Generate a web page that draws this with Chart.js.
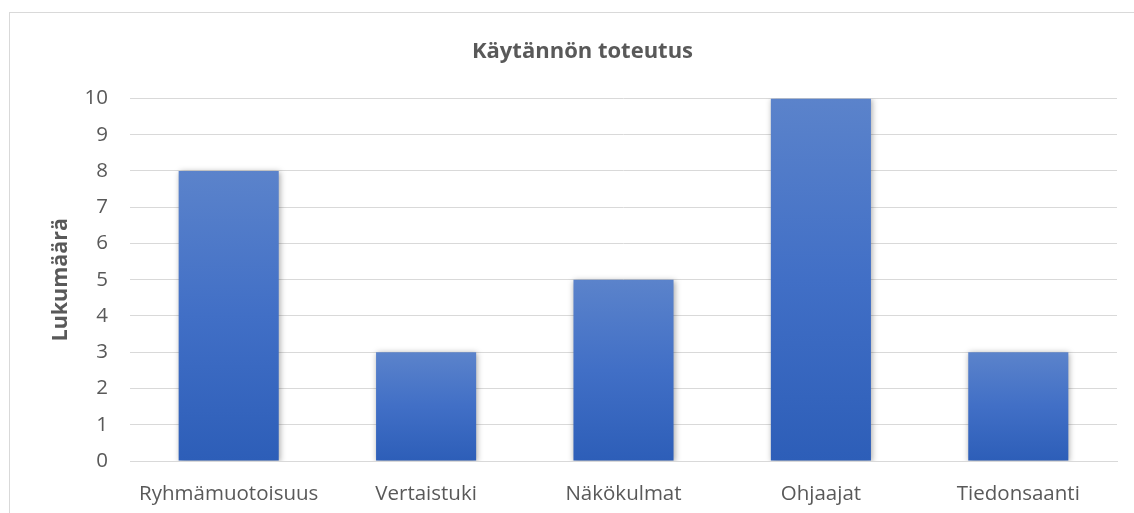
<!DOCTYPE html>
<html>
<head>
<meta charset="utf-8">
<script src="https://cdn.jsdelivr.net/npm/chart.js@4"></script>
<style>
  html, body { margin: 0; padding: 0; background: #fff; }
  #wrap { position: relative; width: 1134px; height: 513px; overflow: hidden; }
  #frame { position: absolute; left: 9px; top: 12px; width: 1200px; height: 600px; border: 1px solid #d9d9d9; }
  canvas { position: absolute; left: 0; top: 0; }
</style>
</head>
<body>
<div id="wrap">
  <div id="frame"></div>
  <canvas id="chart" width="1134" height="513"></canvas>
</div>
<script>
const categories = ['Ryhmämuotoisuus', 'Vertaistuki', 'Näkökulmat', 'Ohjaajat', 'Tiedonsaanti'];
const counts = [8, 3, 5, 10, 3];
const yTicks = [0, 1, 2, 3, 4, 5, 6, 7, 8, 9, 10];

const textColor = '#595959';
const gridColor = '#d9d9d9';
const fontFamily = "'Open Sans', 'Liberation Sans', sans-serif";

// soft drop shadow behind the bars, like the original
const barShadow = {
  id: 'barShadow',
  beforeDatasetsDraw(chart) {
    const ctx = chart.ctx;
    ctx.save();
    ctx.shadowColor = 'rgba(0,0,0,0.35)';
    ctx.shadowBlur = 6;
    ctx.shadowOffsetX = 1;
    ctx.shadowOffsetY = 1;
  },
  afterDatasetsDraw(chart) {
    chart.ctx.restore();
  }
};

function barGradient(context) {
  const chart = context.chart;
  const y = chart.scales.y;
  if (!chart.chartArea || !y) return '#4472c4';
  const top = y.getPixelForValue(context.raw);
  const bottom = y.getPixelForValue(0);
  const g = chart.ctx.createLinearGradient(0, top, 0, bottom);
  g.addColorStop(0, '#5b83cb');
  g.addColorStop(0.5, '#416fc6');
  g.addColorStop(1, '#2d5eb8');
  return g;
}

const ctx = document.getElementById('chart').getContext('2d');
new Chart(ctx, {
  type: 'bar',
  data: {
    labels: categories,
    datasets: [{
      label: 'Lukumäärä',
      data: counts,
      backgroundColor: barGradient,
      borderWidth: 0,
      categoryPercentage: 1,
      barPercentage: 0.507
    }]
  },
  options: {
    responsive: false,
    animation: false,
    layout: { padding: { left: 48, right: 17, top: 0, bottom: 0 } },
    plugins: {
      legend: { display: false },
      tooltip: { enabled: false },
      title: {
        display: true,
        text: 'Käytännön toteutus',
        color: textColor,
        font: { family: fontFamily, size: 22, weight: 'bold' },
        padding: { top: 39, bottom: 33 }
      }
    },
    scales: {
      x: {
        grid: { display: false, drawTicks: false },
        border: { color: gridColor, width: 1 },
        ticks: {
          color: textColor,
          font: { family: fontFamily, size: 20.5 },
          padding: 21
        },
        afterFit(scale) { scale.height = 52; }
      },
      y: {
        min: 0,
        max: 10,
        afterBuildTicks(scale) { scale.ticks = yTicks.map(v => ({ value: v })); },
        grid: { color: gridColor, lineWidth: 1, drawTicks: false },
        border: { display: false },
        ticks: {
          color: textColor,
          font: { family: fontFamily, size: 20.5 },
          padding: 22
        },
        title: {
          display: true,
          text: 'Lukumäärä',
          color: textColor,
          font: { family: fontFamily, size: 21.5, weight: 'bold' },
          padding: 0
        },
        afterFit(scale) { scale.width = 82; }
      }
    }
  },
  plugins: [barShadow]
});
</script>
</body>
</html>
